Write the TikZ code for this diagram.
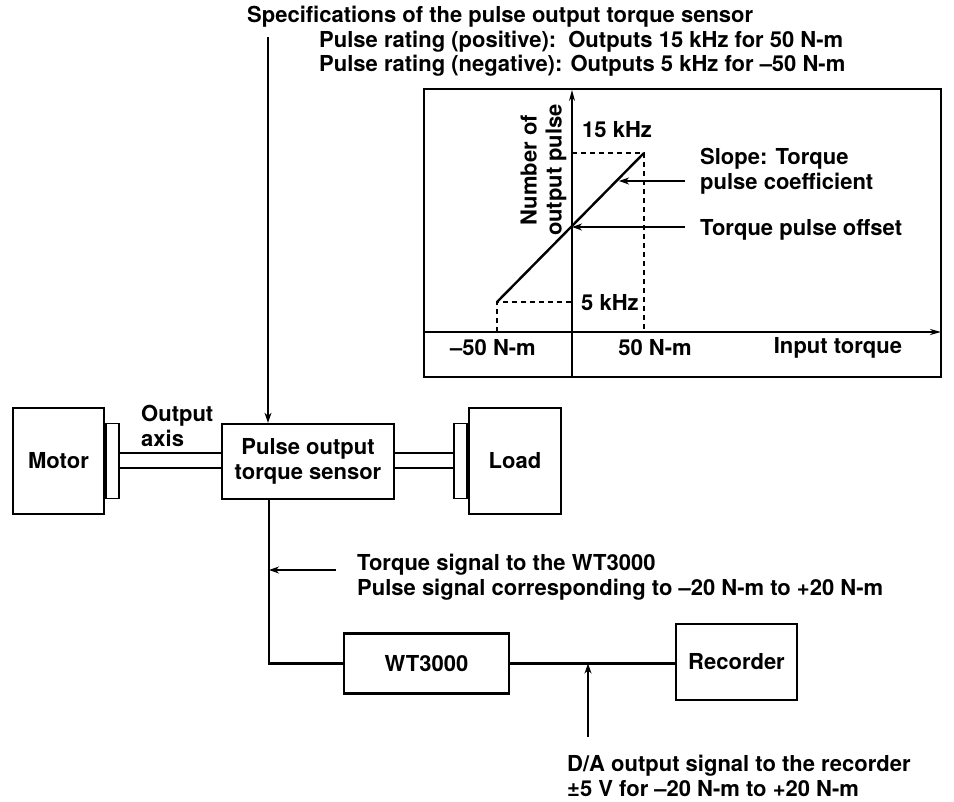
\documentclass[tikz,border=0pt]{standalone}
\usepackage{fontspec}
\setmainfont{TeX Gyre Heros}
\usepackage{tikz}
\usetikzlibrary{calc,arrows.meta}
\tikzset{
	unit/.style={draw,line width=2.4pt,inner sep=0pt,align=center},
	flange/.style={draw,line width=1.8pt,inner sep=0pt,minimum width=13pt,minimum height=75pt},
	thin/.style={line width=1.2pt},
	tip/.style={thin,-{Stealth[length=10pt,width=7pt,inset=3pt]}},
	lbl/.style={inner sep=0pt,align=left,anchor=west},
}
\begin{document}
\begin{tikzpicture}[x=1pt,y=-1pt,font=\fontsize{22}{25}\selectfont\bfseries]
	\useasboundingbox (0,0) rectangle (954,802);
	% Coordinates
	\coordinate (O) at (572,332);
	\coordinate (P) at (497,302);
	\coordinate (Q) at (644,153);
	\coordinate (S) at (268,37);
	\coordinate (T) at (269,570);
	\coordinate (U) at (588,737);
	% Units
	\node[unit,minimum width=91pt,minimum height=106pt] (motor) at (58.5,461) {Motor};
	\node[flange,anchor=west] (mflange) at (motor.east) {};
	\node[unit,minimum width=172pt,minimum height=75pt] (sensor) at (308,461.5) {Pulse output\\torque sensor};
	\node[unit,minimum width=92pt,minimum height=106pt] (load) at (515,461) {Load};
	\node[flange,anchor=east] (lflange) at (load.west) {};
	\node[unit,minimum width=165pt,minimum height=60pt] (wt) at (426.5,663.5) {WT3000};
	\node[unit,minimum width=121pt,minimum height=76pt] (rec) at (736.5,662) {Recorder};
	% Shafts
	\foreach \y in {453,468} {
			\draw[thin] (mflange.east |- 0,\y) -- (sensor.west |- 0,\y);
			\draw[thin] (sensor.east |- 0,\y) -- (lflange.west |- 0,\y);
		}
	\node[lbl] (axis) at (141,426) {Output\\axis};
	% Signal lines
	\draw[line width=2.4pt] (sensor.south -| T) -- (T |- wt.west) -- (wt.west);
	\draw[line width=2.4pt] (wt.east) -- (wt.east -| rec.west);
	\draw[tip] (T) ++(67,0) coordinate (T1) -- (T);
	\node[lbl] (torque) at (357,577) {Torque signal to the WT3000\\Pulse signal corresponding to –20 N-m to +20 N-m};
	\draw[tip] (U) -- (U |- wt.east);
	\node[lbl] (da) at (567,775.5) {D/A output signal to the recorder\\±5 V for –20 N-m to +20 N-m};
	% Specifications
	\node[lbl] (spec) at (247,17) {Specifications of the pulse output torque sensor};
	\node[lbl] (pos) at (319,42) {Pulse rating (positive):\ \ Outputs 15 kHz for 50 N-m};
	\node[lbl] (neg) at (319,66) {Pulse rating (negative): Outputs 5 kHz for –50 N-m};
	\draw[tip] (S) -- (S |- sensor.north);
	% Graph
	\draw[line width=2.4pt] (424,89) rectangle (941,377);
	\draw[line width=2pt,-{Stealth[length=11pt,width=6pt]}] (424,332) -- (941,332);
	\draw[line width=1.4pt,-{Stealth[length=11pt,width=6pt]}] (O |- 0,377) -- (O |- 0,90);
	\draw[line width=2.4pt] (P) -- (Q);
	\draw[thin,dashed,dash pattern=on 5pt off 4pt] (O |- Q) -- (Q) -- (Q |- O);
	\draw[thin,dashed,dash pattern=on 5pt off 4pt] (P |- O) -- (P) -- (P -| O);
	\node[lbl] (hi) at (582,130) {15 kHz};
	\node[lbl] (lo) at (581,303) {5 kHz};
	\node[inner sep=0pt] (m50) at (493,348) {–50 N-m};
	\node[inner sep=0pt] (p50) at (655,348) {50 N-m};
	\node[inner sep=0pt] (inp) at (838,348) {Input torque};
	\node[inner sep=0pt,rotate=90,align=center] (num) at (543.5,170) {Number of\\output pulse};
	\node[lbl] (slope) at (700,171) {Slope: Torque\\pulse coefficient};
	\node[lbl] (off) at (700,230) {Torque pulse offset};
	\draw[tip] (685,181) -- (619,181);
	\draw[tip] (685,227) -- (O |- 0,227);
\end{tikzpicture}
\end{document}
